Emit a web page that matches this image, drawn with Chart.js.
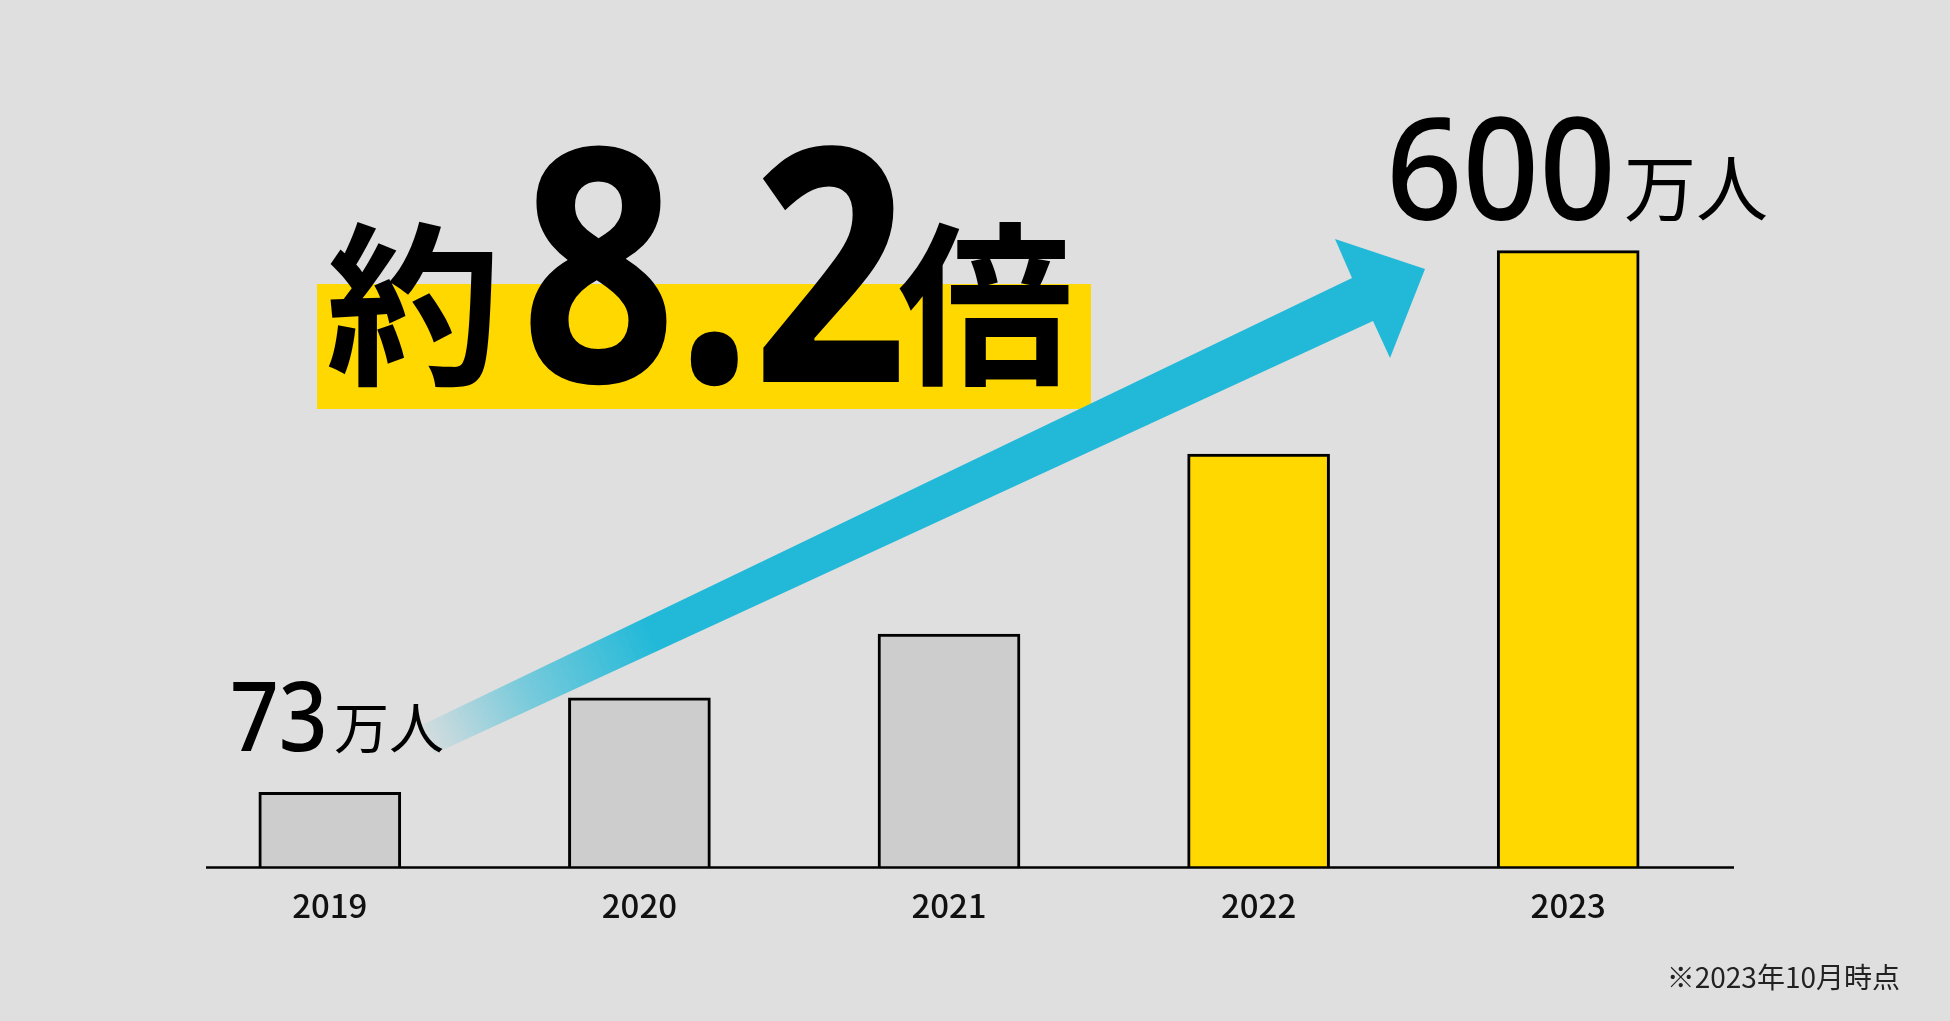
<!DOCTYPE html>
<html lang="ja">
<head>
<meta charset="utf-8">
<script src="https://cdn.jsdelivr.net/npm/chart.js@4.4.1/dist/chart.umd.min.js"></script>
<style>
  html, body { margin: 0; padding: 0; background: #dfdfdf; }
  #wrap { position: relative; width: 1950px; height: 1021px; overflow: hidden; }
  #chart { position: absolute; left: 0; top: 0; }
  .lbl { position: absolute; white-space: nowrap; line-height: 1; color: #000; transform-origin: left top; }
  .num { font-family: "Noto Sans", sans-serif; }
  .jp { font-family: "Noto Sans CJK JP", sans-serif; }
</style>
</head>
<body>
<div id="wrap">
  <canvas id="chart" width="1950" height="1021"></canvas>

  <!-- headline -->
  <span class="lbl jp" id="tYaku" style="left:326px; top:207px; font-size:175px; font-weight:700;">約</span>
  <span class="lbl num" id="tRatio" style="left:521px; top:92px; font-size:327px; font-weight:700; transform:scaleX(0.83);"></span>
  <span class="lbl jp" id="tBai" style="left:898px; top:207px; font-size:175px; font-weight:700;">倍</span>

  <!-- first / last value callouts -->
  <span class="lbl num" id="firstVal" style="left:230px; top:665px; font-size:97px; font-weight:500; transform:scaleX(0.88);"></span>
  <span class="lbl jp" style="left:334px; top:697px; font-size:55px; font-weight:400;">万人</span>
  <span class="lbl num" id="lastVal" style="left:1386px; top:95px; font-size:141px; font-weight:500; transform:scaleX(0.95);"></span>
  <span class="lbl jp" style="left:1624px; top:148px; font-size:72px; font-weight:400;">万人</span>

  <!-- footnote -->
  <span class="lbl jp" id="note" style="right:50px; top:962px; font-size:28px; font-weight:400; color:#222;"></span>
</div>

<script>
// data (万人)
const years = ['2019', '2020', '2021', '2022', '2023'];
const users = [73, 165, 227, 402, 600];
const highlightFrom = 3; // 2022 onward in yellow
const noteText = '※2023年10月時点';

const GRAY = '#cdcdcd';
const YELLOW = '#ffd800';
const CYAN = '#22b9d8';

document.getElementById('firstVal').textContent = users[0];
document.getElementById('lastVal').textContent = users[users.length - 1];
document.getElementById('tRatio').textContent = (users[users.length - 1] / users[0]).toFixed(1);
document.getElementById('note').textContent = noteText;

// yellow box behind the headline
const headlineBox = {
  id: 'headlineBox',
  beforeDatasetsDraw(chart) {
    const ctx = chart.ctx;
    ctx.save();
    ctx.fillStyle = YELLOW;
    ctx.fillRect(317, 284, 774, 125);
    ctx.restore();
  }
};

// growth arrow + baseline
const arrowAndAxis = {
  id: 'arrowAndAxis',
  afterDatasetsDraw(chart) {
    const ctx = chart.ctx;
    const area = chart.chartArea;
    ctx.save();

    const grad = ctx.createLinearGradient(428, 740, 650, 635);
    grad.addColorStop(0, 'rgba(34,185,216,0.06)');
    grad.addColorStop(0.45, 'rgba(34,185,216,0.55)');
    grad.addColorStop(1, CYAN);
    ctx.fillStyle = grad;
    ctx.beginPath();
    ctx.moveTo(422, 725);
    ctx.lineTo(1352, 278);
    ctx.lineTo(1335, 239);
    ctx.lineTo(1425, 269);
    ctx.lineTo(1390, 358);
    ctx.lineTo(1373, 321);
    ctx.lineTo(434, 754);
    ctx.closePath();
    ctx.fill();

    ctx.strokeStyle = '#000';
    ctx.lineWidth = 2.5;
    ctx.beginPath();
    ctx.moveTo(area.left + 31, area.bottom);
    ctx.lineTo(area.right + 11, area.bottom);
    ctx.stroke();
    ctx.restore();
  }
};

new Chart(document.getElementById('chart'), {
  type: 'bar',
  data: {
    labels: years,
    datasets: [{
      data: users,
      backgroundColor: ctx => ctx.dataIndex >= highlightFrom ? YELLOW : GRAY,
      borderColor: '#000',
      borderWidth: 3,
      barThickness: 142
    }]
  },
  options: {
    responsive: false,
    animation: false,
    devicePixelRatio: 1,
    layout: { padding: { left: 175, right: 227, top: 45, bottom: 78 } },
    plugins: { legend: { display: false }, tooltip: { enabled: false } },
    scales: {
      x: {
        offset: true,
        grid: { display: false, drawTicks: false, tickLength: 0 },
        border: { display: false },
        ticks: {
          color: '#111',
          padding: 18,
          font: { family: '"Noto Sans CJK JP", sans-serif', size: 33, weight: 500 }
        }
      },
      y: {
        display: false,
        min: 0,
        max: 800
      }
    }
  },
  plugins: [headlineBox, arrowAndAxis]
});
</script>
</body>
</html>
